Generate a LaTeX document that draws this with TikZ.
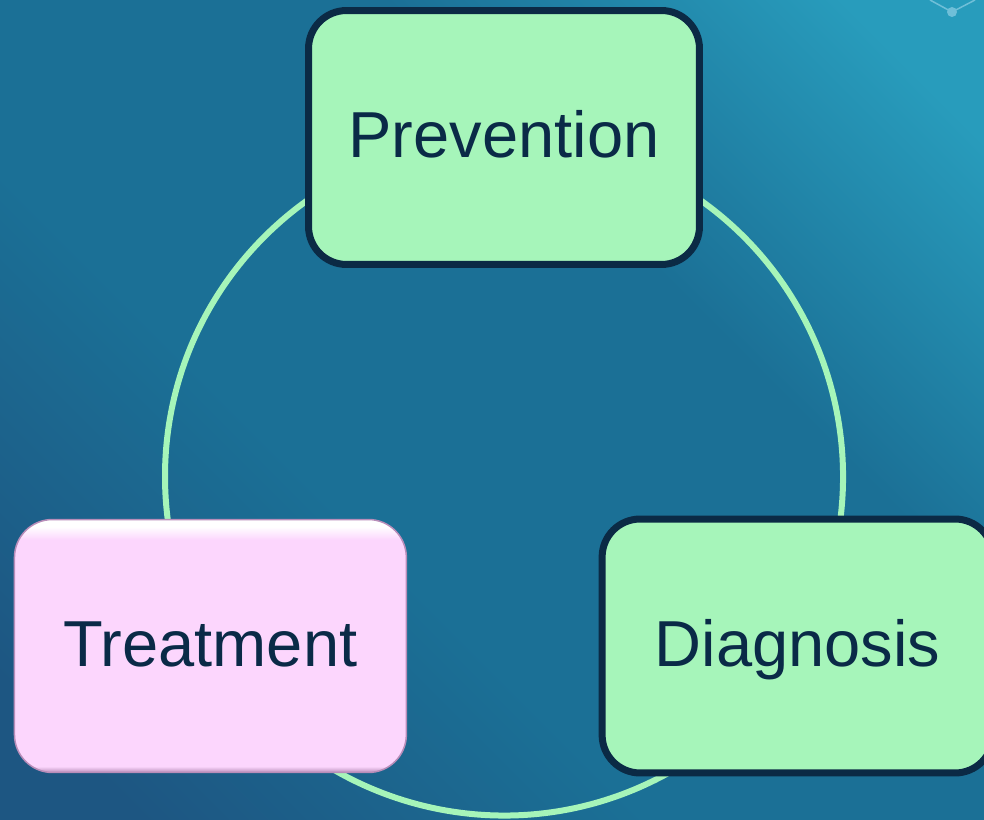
\documentclass[tikz,border=0pt]{standalone}
\usepackage{fontspec}
\setmainfont{Liberation Sans}
\usetikzlibrary{backgrounds}

\definecolor{bgdark}{HTML}{1D5682}
\definecolor{bgmid}{HTML}{1B7096}
\definecolor{bglight}{HTML}{289CBC}
\definecolor{ringgreen}{HTML}{A6F5B9}
\definecolor{boxgreen}{HTML}{A6F5BA}
\definecolor{boxline}{HTML}{0B2A45}
\definecolor{textnavy}{HTML}{0A2A47}
\definecolor{pinkfill}{HTML}{FCD6FD}
\definecolor{pinkedge}{HTML}{B88DB9}
\definecolor{decoblue}{HTML}{6FBFD8}

\pgfdeclareverticalshading{bevel}{100bp}{color(0bp)=(pinkedge); color(25bp)=(pinkedge);
  color(26.2bp)=(pinkfill); color(71bp)=(pinkfill); color(73.6bp)=(white); color(100bp)=(white)}
\pgfdeclareverticalshading{backdrop}{100bp}{color(0bp)=(bgdark); color(20bp)=(bgdark);
  color(40bp)=(bgmid); color(62bp)=(bgmid); color(80bp)=(bglight); color(100bp)=(bglight)}

\tikzset{
  cyclebox/.style={rectangle, rounded corners=0.76cm, font=\fontsize{37}{44}\selectfont,
    text=textnavy, text height=0.94cm, text depth=0.12cm, align=center},
  greenbox/.style={cyclebox, fill=boxgreen, draw=boxline, line width=0.14cm,
    minimum width=7.82cm, minimum height=5.08cm},
  pinkbox/.style={cyclebox, shading=bevel, draw=pinkedge, line width=0.03cm,
    minimum width=7.84cm, minimum height=5.06cm},
  ring/.style={draw=ringgreen, line width=0.12cm}
}

\begin{document}
\begin{tikzpicture}[x=0.02cm, y=0.02cm]
  \useasboundingbox (0,0) rectangle (984,819);
  \coordinate (c) at (504,342.5);
  \path
    (c) ++(90:339) node[greenbox] (prev) {Prevention}
    (c) ++(-30:339) node[greenbox] (diag) {Diagnosis}
    (c) ++(210:339) node[pinkbox] (treat) {Treatment};
  \begin{pgfonlayer}{background}
    \shade[shading=backdrop, shading angle=-45] (0,0) rectangle (984,819);
    % corner ornament
    \draw[decoblue, line width=0.03cm] (930,819) -- (952,807) -- (975,819);
    \fill[decoblue] (952,807) circle (5);
    % cycle arcs
    \draw[ring] (prev.center) arc[start angle=90, end angle=210, radius=339];
    \draw[ring] (treat.center) arc[start angle=210, end angle=330, radius=339];
    \draw[ring] (diag.center) arc[start angle=-30, end angle=90, radius=339];
  \end{pgfonlayer}
\end{tikzpicture}
\end{document}
